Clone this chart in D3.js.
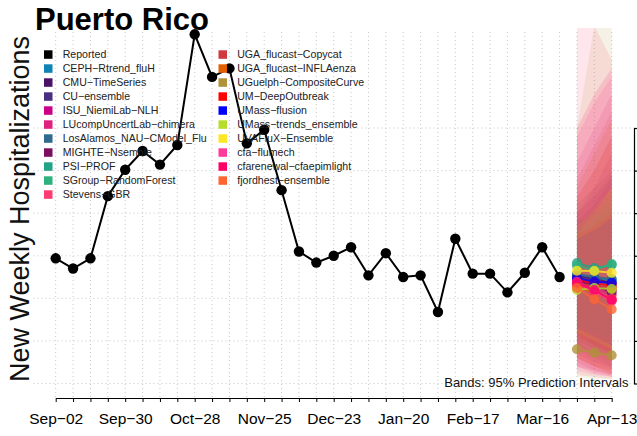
<!DOCTYPE html>
<html><head><meta charset="utf-8">
<script src="https://cdn.jsdelivr.net/npm/d3@7"></script>
<style>body{margin:0;background:#fff} svg{display:block}</style>
</head><body>
<svg id="c" width="637" height="436"></svg>
<script>
// ---------------- data ----------------
const reportedDates = ["2023-09-02","2023-09-09","2023-09-16","2023-09-23","2023-09-30","2023-10-07","2023-10-14","2023-10-21","2023-10-28","2023-11-04","2023-11-11","2023-11-18","2023-11-25","2023-12-02","2023-12-09","2023-12-16","2023-12-23","2023-12-30","2024-01-06","2024-01-13","2024-01-20","2024-01-27","2024-02-03","2024-02-10","2024-02-17","2024-02-24","2024-03-02","2024-03-09","2024-03-16","2024-03-23"];
const reportedValues = [147,135,147,220,251,273,257,280,410,360,370,282,298,227,155,142,150,160,127,153,125,127,84,170,129,129,107,130,160,125];

const forecastDates = ["2024-03-30","2024-04-06","2024-04-13"];
const models = ["CEPH-Rtrend_fluH","CMU-TimeSeries","CU-ensemble","ISU_NiemiLab-NLH","LUcompUncertLab-chimera","LosAlamos_NAU-CModel_Flu","MIGHTE-Nsemble","PSI-PROF","SGroup-RandomForest","Stevens-GBR","UGA_flucast-Copycat","UGA_flucast-INFLAenza","UGuelph-CompositeCurve","UM-DeepOutbreak","UMass-flusion","UMass-trends_ensemble","UVAFluX-Ensemble","cfa-flumech","cfarenewal-cfaepimlight","fjordhest-ensemble"];
const modelColors = ["#0E84B4","#4B1268","#482F82","#CC0088","#E0207F","#306A8E","#7B0F5E","#20A386","#2DB27D","#FF3B6F","#D03A3F","#E36000","#B09238","#FF0000","#0000FF","#B5DE2B","#FDE725","#FF3A9B","#FF0066","#FF6433"];
const modelMedians = [
  [127.4,123.9,121.5],[126.2,122.7,118.0],[125.0,121.5,116.8],[122.7,115.7,109.8],
  [120.3,112.1,103.9],[128.6,125.0,122.7],[121.5,114.5,107.4],[141.5,135.6,139.1],
  [138.0,133.3,140.3],[118.0,108.6,99.2],[116.8,114.5,112.1],[114.5,106.3,98.0],
  [40.2,36.2,33.1],[121.5,118.0,114.5],[123.9,119.5,118.4],[109.8,112.1,111.0],
  [132.4,132.1,130.1],[119.2,107.4,96.9],[118.0,109.8,98.0],[112.1,98.9,87.1]];
const modelLower = [
  [40,30,20],[50,40,30],[45,35,25],[30,20,15],[20,15,10],[60,45,35],[35,25,18],[70,60,50],
  [60,50,40],[10,8,5],[25,15,10],[30,20,12],[8,5,5],[55,45,35],[65,55,45],[50,35,25],
  [60,50,40],[15,10,8],[20,12,8],[30,20,10]];
const modelUpper = [
  [210,230,250],[190,210,240],[200,220,245],[200,230,270],[260,300,340],[185,205,225],[220,250,290],[180,190,210],
  [190,200,215],[560,420,380],[240,280,320],[230,270,310],[300,420,520],[175,185,200],[170,180,195],[175,200,230],
  [185,205,230],[290,330,360],[300,340,370],[215,250,290]];

const xTickLabels = ["Sep\u221202","Sep\u221230","Oct\u221228","Nov\u221225","Dec\u221223","Jan\u221220","Feb\u221217","Mar\u221216","Apr\u221213"];
const yTicks = [0,50,100,150,200,250,300];

// ---------------- layout ----------------
const svg = d3.select("#c");
const FONT = "'Liberation Sans', Arial, Helvetica, sans-serif";
const plot = {left:33.5, right:634, top:28, bottom:398};
const parse = d3.utcParse("%Y-%m-%d");
const x = d3.scaleUtc().domain([parse("2023-09-02"), parse("2024-04-13")]).range([55.7, 611.7]);
const y = d3.scaleLinear().domain([0,300]).range([383.5,128]);

svg.append("defs").append("clipPath").attr("id","clip")
  .append("rect").attr("x",plot.left).attr("y",plot.top)
  .attr("width",plot.right-plot.left).attr("height",plot.bottom-plot.top);

const weeks = d3.utcSaturday.range(parse("2023-09-02"), d3.utcDay.offset(parse("2024-04-13"),1));

// grid
const grid = svg.append("g").attr("stroke","#c8c8c8").attr("stroke-width",1).attr("stroke-dasharray","1,3");
grid.selectAll("line.v").data(weeks).join("line").attr("class","v")
  .attr("x1",d=>x(d)).attr("x2",d=>x(d)).attr("y1",plot.top+4).attr("y2",plot.bottom);
grid.selectAll("line.h").data(yTicks).join("line").attr("class","h")
  .attr("x1",plot.left).attr("x2",plot.right).attr("y1",d=>y(d)).attr("y2",d=>y(d));

// bands
const fDates = forecastDates.map(parse);
const gPlot = svg.append("g").attr("clip-path","url(#clip)");
const area = d3.area().x((d,i)=>x(fDates[i])).y0(d=>y(d[0])).y1(d=>y(d[1]));
models.forEach((m,k)=>{
  const pts = fDates.map((d,i)=>[modelLower[k][i], modelUpper[k][i]]);
  gPlot.append("path").attr("d",area(pts)).attr("fill",modelColors[k]).attr("fill-opacity",0.13);
});

// reported
const line = d3.line().x(d=>x(d[0])).y(d=>y(d[1]));
const rep = reportedDates.map((d,i)=>[parse(d), reportedValues[i]]);
gPlot.append("path").attr("d",line(rep)).attr("fill","none").attr("stroke","#000").attr("stroke-width",2);
gPlot.selectAll("circle.rep").data(rep).join("circle").attr("class","rep")
  .attr("cx",d=>x(d[0])).attr("cy",d=>y(d[1])).attr("r",5.2).attr("fill","#000");

// model medians
models.forEach((m,k)=>{
  const pts = fDates.map((d,i)=>[d, modelMedians[k][i]]);
  const g = gPlot.append("g").attr("opacity",0.8);
  g.append("path").attr("d",line(pts)).attr("fill","none").attr("stroke",modelColors[k]).attr("stroke-width",2);
  g.selectAll("circle").data(pts).join("circle")
    .attr("cx",d=>x(d[0])).attr("cy",d=>y(d[1])).attr("r",5).attr("fill",modelColors[k]);
});

// axes
const xAxis = d3.axisBottom(x).tickValues(weeks).tickSize(4).tickSizeOuter(0)
  .tickFormat((d,i)=> i%4===0 ? xTickLabels[i/4] : "");
const gx = svg.append("g").attr("transform",`translate(0,${plot.bottom})`).call(xAxis);
gx.selectAll("path,line").attr("stroke","#000").attr("stroke-width",1);
gx.selectAll("text").attr("font-family",FONT).attr("font-size",15.5).attr("fill","#000").attr("dy",null).attr("y",26);

const yAxis = d3.axisRight(y).tickValues(yTicks).tickSize(4).tickSizeOuter(0).tickFormat("");
const gy = svg.append("g").attr("transform",`translate(${plot.right},0)`).call(yAxis);
gy.selectAll("path,line").attr("stroke","#000").attr("stroke-width",1.2);

// title & labels
svg.append("text").attr("x",35).attr("y",30).attr("font-family",FONT).attr("font-weight","bold")
  .attr("font-size",31).attr("fill","#000").text("Puerto Rico");
svg.append("text").attr("transform","translate(29,209) rotate(-90)").attr("text-anchor","middle")
  .attr("font-family",FONT).attr("font-size",27).attr("fill","#111").text("New Weekly Hospitalizations");
svg.append("text").attr("x",628.5).attr("y",386.5).attr("text-anchor","end")
  .attr("font-family",FONT).attr("font-size",13).attr("fill","#111").text("Bands: 95% Prediction Intervals");

// legend
const legNames = ["Reported"].concat(models);
const legColors = ["#000000"].concat(modelColors);
const leg = svg.append("g");
legNames.forEach((n,i)=>{
  const col = i<11 ? 0 : 1;
  const row = i<11 ? i : i-11;
  const sx = col===0 ? 44 : 218.5;
  const cy = 54.3 + row*14;
  leg.append("rect").attr("x",sx).attr("y",cy-4).attr("width",8.5).attr("height",8.5).attr("fill",legColors[i]);
  leg.append("text").attr("x",sx+18.7).attr("y",cy+4).attr("font-family",FONT).attr("font-size",10.6)
    .attr("fill","#222").text(n.replace(/-/g,"\u2212"));
});
</script>
</body></html>
